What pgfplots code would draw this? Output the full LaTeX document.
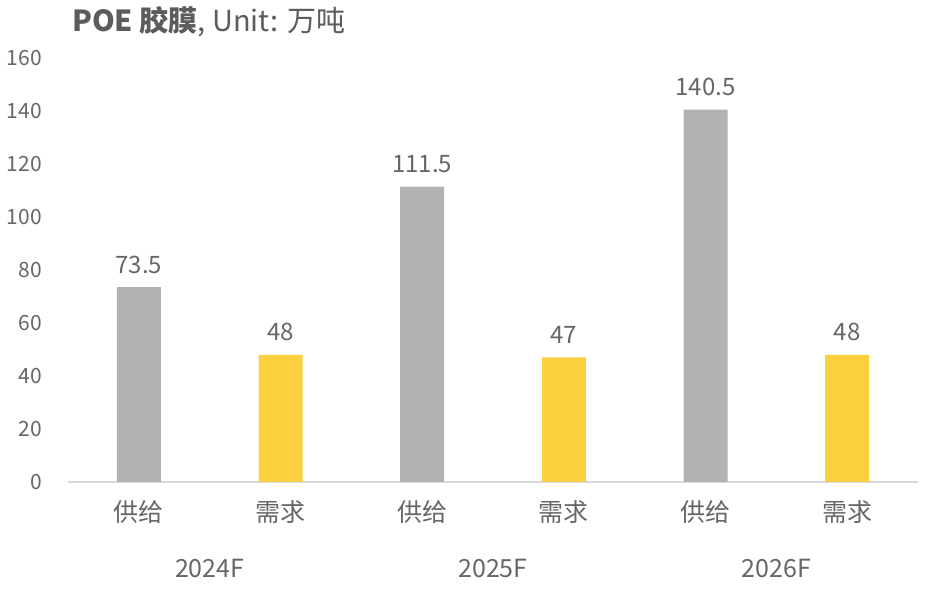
\documentclass[border=0pt]{standalone}
\usepackage{fontspec}
\setmainfont{Noto Sans CJK SC}
\usepackage{pgfplots}
\pgfplotsset{compat=1.18}
\definecolor{bargray}{HTML}{B2B2B2}
\definecolor{baryellow}{HTML}{FDD03F}
\definecolor{txtgray}{HTML}{666666}
\definecolor{axgray}{HTML}{D9D9D9}
\begin{document}
\begin{tikzpicture}
\begin{axis}[
  scale only axis,
  width=850pt, height=424pt,
  xmin=-0.5, xmax=5.5,
  ymin=0, ymax=160,
  xtick={0,...,5},
  xticklabels={供给,需求,供给,需求,供给,需求},
  ytick=\empty,
  axis y line=none,
  axis x line*=bottom,
  x axis line style={axgray, line width=1.2pt, -},
  axis line style={-},
  major tick length=0pt,
  xtick style={draw=none},
  xticklabel style={text=txtgray, font=\fontsize{25}{27}\selectfont, yshift=-15pt},
  clip=false,
  ybar, bar width=44pt, bar shift=0pt,
  nodes near coords,
  nodes near coords style={text=txtgray, font=\fontsize{24}{26}\selectfont, yshift=10pt},
  point meta=explicit symbolic,
  enlargelimits=false,
]
\addplot[fill=bargray, draw=none] coordinates {(0,73.5)[73.5] (2,111.5)[111.5] (4,140.5)[140.5]};
\addplot[fill=baryellow, draw=none] coordinates {(1,48)[48] (3,47)[47] (5,48)[48]};
\end{axis}
\begin{axis}[
  scale only axis,
  width=850pt, height=424pt,
  xmin=-0.5, xmax=5.5, ymin=0, ymax=160,
  hide x axis, axis y line=none,
  ytick=\empty, xtick=\empty,
  clip=false,
]
\foreach \v in {0,20,...,160} {
  \edef\tmp{\noexpand\node[anchor=east, text=txtgray, font=\noexpand\fontsize{21}{23}\noexpand\selectfont, inner sep=0pt] at (axis cs:-0.5,\v) [xshift=-26pt] {\v};}
  \tmp
}
\node[text=txtgray, font=\fontsize{25}{27}\selectfont] at (axis cs:0.5,0) [yshift=-86pt] {2024F};
\node[text=txtgray, font=\fontsize{25}{27}\selectfont] at (axis cs:2.5,0) [yshift=-86pt] {2025F};
\node[text=txtgray, font=\fontsize{25}{27}\selectfont] at (axis cs:4.5,0) [yshift=-86pt] {2026F};
\node[anchor=west, text=txtgray!90!black, font=\fontsize{29}{31}\selectfont, inner sep=0pt] at (axis cs:-0.5,160) [xshift=4pt, yshift=36pt] {\textbf{POE 胶膜}, Unit: 万吨};
\end{axis}
\path (-68pt,-111pt) rectangle (857pt,482pt);
\end{tikzpicture}
\end{document}
